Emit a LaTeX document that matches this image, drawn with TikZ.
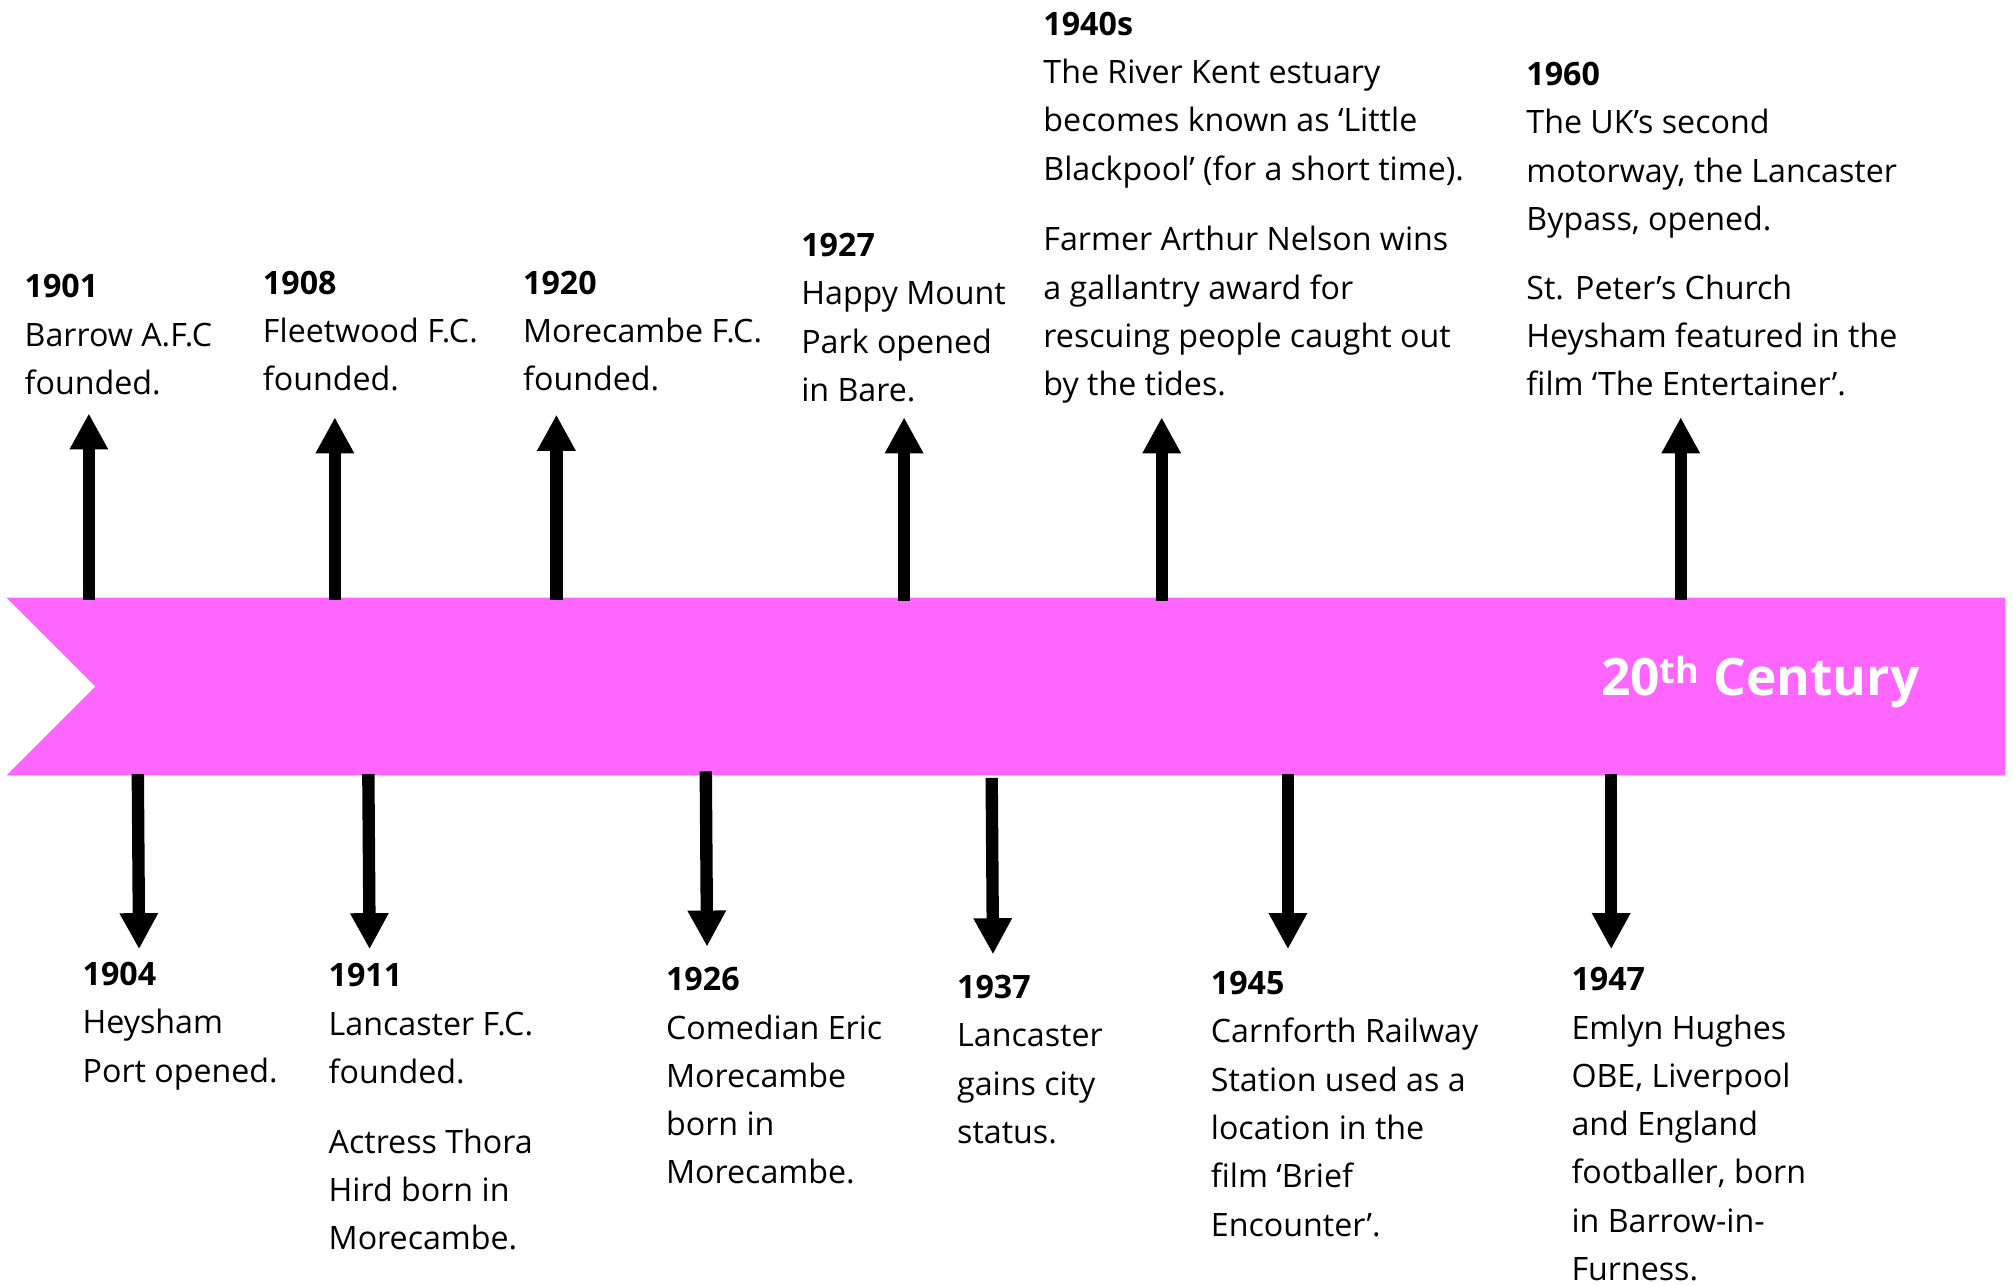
\documentclass[tikz,border=0pt]{standalone}
\usepackage{fontspec}
\setmainfont{Open Sans}
\usetikzlibrary{arrows.meta}
\definecolor{bannerpink}{RGB}{255,102,255}
\tikzset{
  evt/.style={anchor=north west, inner sep=0pt, align=left,
    font=\fontsize{25}{37.5}\selectfont},
  tl/.style={line width=9.6pt, -{Triangle[width=28pt,length=28pt]}},
}
\newcommand{\yr}[1]{\textbf{#1}}
\begin{document}
\begin{tikzpicture}[x=1pt,y=-1pt]
\useasboundingbox (0,0) rectangle (1563,998);
% banner
\fill[bannerpink] (5,464) -- (1557,464) -- (1557,602) -- (5,602) -- (74,533) -- cycle;
\node[anchor=base west, inner sep=0pt, text=white,
  font=\fontsize{40}{48}\selectfont\bfseries] (title) at (1243,540) {20\textsuperscript{th} Century};
% coordinates for arrows
\coordinate (u1s) at (69,466);   \coordinate (u1e) at (69,321);
\coordinate (u2s) at (260,466);  \coordinate (u2e) at (260,324);
\coordinate (u3s) at (432,466);  \coordinate (u3e) at (432,322);
\coordinate (u4s) at (702,467);  \coordinate (u4e) at (702,324);
\coordinate (u5s) at (902,467);  \coordinate (u5e) at (902,324);
\coordinate (u6s) at (1305,466); \coordinate (u6e) at (1305,324);
\coordinate (d1s) at (107,601);  \coordinate (d1e) at (108,737);
\coordinate (d2s) at (286,601);  \coordinate (d2e) at (287,737);
\coordinate (d3s) at (548,599);  \coordinate (d3e) at (549,735);
\coordinate (d4s) at (770,604);  \coordinate (d4e) at (771,741);
\coordinate (d5s) at (1000,601); \coordinate (d5e) at (1000,737);
\coordinate (d6s) at (1251,601); \coordinate (d6e) at (1251,737);
\foreach \i in {u1,u2,u3,u4,u5,u6,d1,d2,d3,d4,d5,d6}
  \draw[tl] (\i s) -- (\i e);
% events above
\node[evt] (e1901) at (19,213) {\yr{1901}\\Barrow A.F.C\\founded.};
\node[evt] (e1908) at (204,210) {\yr{1908}\\Fleetwood F.C.\\founded.};
\node[evt] (e1920) at (406,210) {\yr{1920}\\Morecambe F.C.\\founded.};
\node[evt] (e1927) at (622,181) {\yr{1927}\\Happy Mount\\Park opened\\in Bare.};
\node[evt] (e1940) at (810,9) {\yr{1940s}\\The River Kent estuary\\becomes known as ‘Little\\Blackpool’ (for a short time).\\[17.5pt]Farmer Arthur Nelson wins\\a gallantry award for\\rescuing people caught out\\by the tides.};
\node[evt] (e1960) at (1185,48) {\yr{1960}\\The UK’s second\\motorway, the Lancaster\\Bypass, opened.\\[16pt]St. Peter’s Church\\Heysham featured in the\\film ‘The Entertainer’.};
% events below
\node[evt] (e1904) at (64,747) {\yr{1904}\\Heysham\\Port opened.};
\node[evt] (e1911) at (255,748) {\yr{1911}\\Lancaster F.C.\\founded.\\[16.5pt]Actress Thora\\Hird born in\\Morecambe.};
\node[evt] (e1926) at (517,751) {\yr{1926}\\Comedian Eric\\Morecambe\\born in\\Morecambe.};
\node[evt] (e1937) at (743,757) {\yr{1937}\\Lancaster\\gains city\\status.};
\node[evt] (e1945) at (940,754) {\yr{1945}\\Carnforth Railway\\Station used as a\\location in the\\film ‘Brief\\Encounter’.};
\node[evt] (e1947) at (1220,751) {\yr{1947}\\Emlyn Hughes\\OBE, Liverpool\\and England\\footballer, born\\in Barrow-in-\\Furness.};
\end{tikzpicture}
\end{document}
